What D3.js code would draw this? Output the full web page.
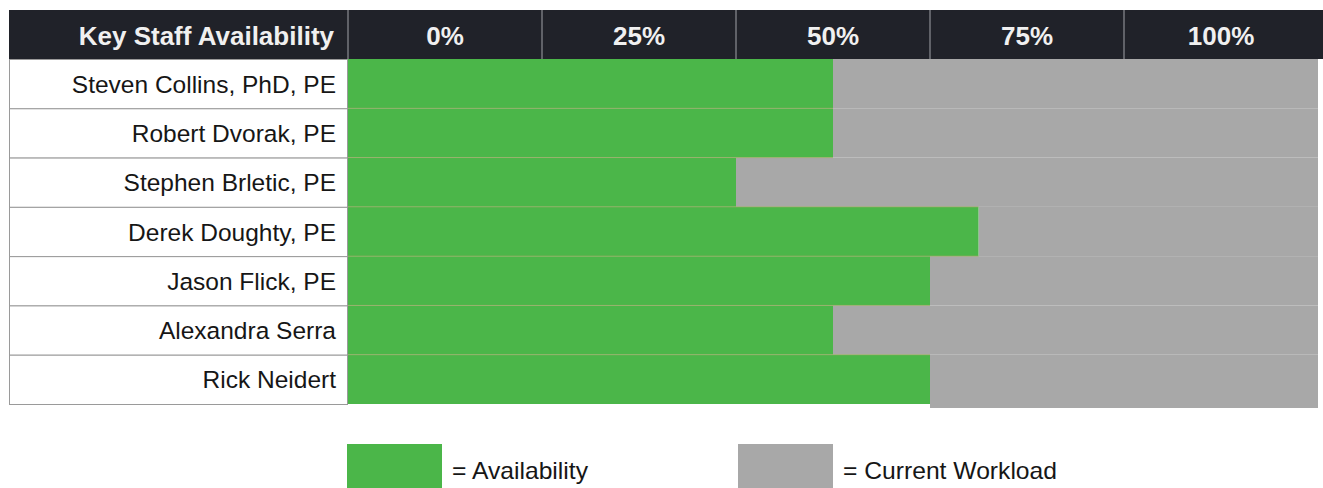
<!DOCTYPE html>
<html>
<head>
<meta charset="utf-8">
<script src="https://cdn.jsdelivr.net/npm/d3@7"></script>
<style>
  html, body { margin: 0; padding: 0; background: #ffffff; }
  svg { display: block; }
  text { font-family: "Liberation Sans", Arial, Helvetica, sans-serif; }
</style>
</head>
<body>
<svg id="chart" width="1323" height="488"></svg>
<script>
// ---- data ----
const headerTitle = "Key Staff Availability";
const headerTicks = ["0%", "25%", "50%", "75%", "100%"];
const staff = [
  "Steven Collins, PhD, PE",
  "Robert Dvorak, PE",
  "Stephen Brletic, PE",
  "Derek Doughty, PE",
  "Jason Flick, PE",
  "Alexandra Serra",
  "Rick Neidert"
];
const availability = [50, 50, 40, 65, 60, 50, 60];
const workload = availability.map(v => 100 - v);
const legendLabels = ["= Availability", "= Current Workload"];

// ---- layout ----
const GREEN = "#4bb649";
const GRAY = "#a8a8a8";
const HEADER = "#202229";

const svg = d3.select("#chart");
const leftEdge = 9, labelRight = 348, plotRight = 1318;
const headerTop = 10, headerBottom = 59, rowsBottom = 404;

const x = d3.scaleLinear().domain([0, 100]).range([labelRight, plotRight]);
const xHead = d3.scaleBand().domain(headerTicks).range([labelRight, plotRight]);
const y = d3.scaleBand().domain(staff).range([headerBottom, rowsBottom]).padding(0);

// header bar
svg.append("rect")
  .attr("x", leftEdge).attr("y", headerTop)
  .attr("width", 1323 - leftEdge).attr("height", headerBottom - headerTop)
  .attr("fill", HEADER);

svg.append("text")
  .attr("x", labelRight - 14).attr("y", headerTop + 35)
  .attr("text-anchor", "end")
  .attr("fill", "#f0f0f0")
  .attr("font-size", 26).attr("font-weight", "bold")
  .text(headerTitle);

// header column dividers
svg.append("g").selectAll("line")
  .data(headerTicks)
  .join("line")
  .attr("x1", d => xHead(d)).attr("x2", d => xHead(d))
  .attr("y1", headerTop).attr("y2", headerBottom)
  .attr("stroke", "#a0a2a8").attr("stroke-width", 1);

svg.append("g").selectAll("text")
  .data(headerTicks)
  .join("text")
  .attr("x", d => xHead(d) + xHead.bandwidth() / 2)
  .attr("y", headerTop + 35)
  .attr("text-anchor", "middle")
  .attr("fill", "#f0f0f0")
  .attr("font-size", 26).attr("font-weight", "bold")
  .text(d => d);

// label column cells
const rows = svg.append("g");
rows.selectAll("rect")
  .data(staff)
  .join("rect")
  .attr("x", leftEdge + 0.5).attr("y", d => y(d) + 0.5)
  .attr("width", labelRight - leftEdge - 1).attr("height", y.bandwidth())
  .attr("fill", "#ffffff").attr("stroke", "#9a9a9a").attr("stroke-width", 1);

rows.selectAll("text")
  .data(staff)
  .join("text")
  .attr("x", labelRight - 12)
  .attr("y", d => y(d) + y.bandwidth() / 2 + 9)
  .attr("text-anchor", "end")
  .attr("fill", "#161616")
  .attr("font-size", 24.5)
  .text(d => d);

// workload (gray) bars
const bars = svg.append("g");
bars.selectAll("rect.work")
  .data(staff)
  .join("rect")
  .attr("class", "work")
  .attr("x", (d, i) => x(availability[i]))
  .attr("y", d => y(d))
  .attr("width", (d, i) => x(availability[i] + workload[i]) - x(availability[i]))
  .attr("height", (d, i) => y.bandwidth() + (i === staff.length - 1 ? 4 : 0))
  .attr("fill", GRAY);

// availability (green) bars
bars.selectAll("rect.avail")
  .data(staff)
  .join("rect")
  .attr("class", "avail")
  .attr("x", x(0))
  .attr("y", d => y(d))
  .attr("width", (d, i) => x(availability[i]) - x(0))
  .attr("height", y.bandwidth())
  .attr("fill", GREEN);

// faint row separators within the bars
bars.selectAll("line.sep")
  .data(staff.slice(1))
  .join("line")
  .attr("class", "sep")
  .attr("x1", x(0))
  .attr("x2", (d, i) => x(Math.max(availability[i], availability[i + 1])))
  .attr("y1", d => y(d)).attr("y2", d => y(d))
  .attr("stroke", "#a7a86a").attr("stroke-opacity", 0.7).attr("stroke-width", 1);

// legend
const legendColors = [GREEN, GRAY];
const legendX = [347, 738];
const legend = svg.append("g");
legend.selectAll("rect")
  .data(legendLabels)
  .join("rect")
  .attr("x", (d, i) => legendX[i]).attr("y", 444)
  .attr("width", 95).attr("height", 48)
  .attr("fill", (d, i) => legendColors[i]);
legend.selectAll("text")
  .data(legendLabels)
  .join("text")
  .attr("x", (d, i) => legendX[i] + 105).attr("y", 479)
  .attr("fill", "#161616")
  .attr("font-size", 24)
  .attr("textLength", (d, i) => [136, 214][i])
  .attr("lengthAdjust", "spacingAndGlyphs")
  .text(d => d);
</script>
</body>
</html>
